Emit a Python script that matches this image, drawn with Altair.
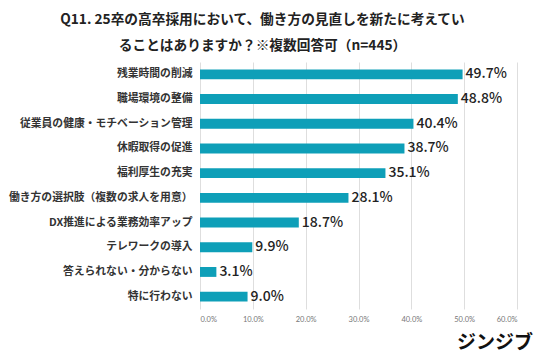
import altair as alt
import pandas as pd

categories = [
    "残業時間の削減",
    "職場環境の整備",
    "従業員の健康・モチベーション管理",
    "休暇取得の促進",
    "福利厚生の充実",
    "働き方の選択肢（複数の求人を用意）",
    "DX推進による業務効率アップ",
    "テレワークの導入",
    "答えられない・分からない",
    "特に行わない",
]
values = [49.7, 48.8, 40.4, 38.7, 35.1, 28.1, 18.7, 9.9, 3.1, 9.0]
tick_values = [0, 10, 20, 30, 40, 50, 60]

df = pd.DataFrame({"cat": categories, "val": [v / 100 for v in values],
                   "lab": [f"{v:.1f}%" for v in values]})

FONT = "Noto Sans CJK JP"
W, H = 317, 247

y = alt.Y("cat:N", sort=categories, title=None,
          scale=alt.Scale(paddingInner=0.6, paddingOuter=0.3),
          axis=alt.Axis(domain=False, ticks=False, labelFont=FONT, labelFontWeight="bold",
                        labelFontSize=10.8, labelColor="#333333", labelLimit=300, labelPadding=8))
x = alt.X("val:Q", title=None,
          scale=alt.Scale(domain=[0, 0.6], nice=False),
          axis=alt.Axis(values=[t / 100 for t in tick_values], format=".1%", domain=False,
                        ticks=False, gridColor="#dedede", gridWidth=1, labelFont="Lato",
                        labelFontSize=7.5, labelColor="#777777", labelPadding=6))

bars = alt.Chart(df).mark_bar(color="#0E9FB8").encode(x=x, y=y)
text = alt.Chart(df).mark_text(align="left", dx=3, font=FONT, fontSize=14,
                               fontWeight=500, color="#222222").encode(
    x="val:Q", y=alt.Y("cat:N", sort=categories), text="lab:N")

logo = alt.Chart(pd.DataFrame({"t": ["ジンジブ"]})).mark_text(
    font=FONT, fontSize=19, fontWeight="bold", color="#111111", align="right"
).encode(x=alt.value(W + 16), y=alt.value(H + 34), text="t:N")

chart = alt.layer(bars, text, logo).properties(
    width=W, height=H,
    autosize=alt.AutoSizeParams(type="none"),
    padding={"left": 200, "top": 62, "right": 19, "bottom": 51},
    title=alt.TitleParams(
        text=["Q11. 25卒の高卒採用において、働き方の見直しを新たに考えてい",
              "ることはありますか？※複数回答可（n=445）"],
        font=FONT, fontSize=13.7, fontWeight="bold", color="#222222",
        anchor="middle", frame="group", dx=-96, offset=9, lineHeight=26),
).configure_view(stroke=None)

chart.save("out.html", embed_options={"renderer": "svg", "actions": False})
